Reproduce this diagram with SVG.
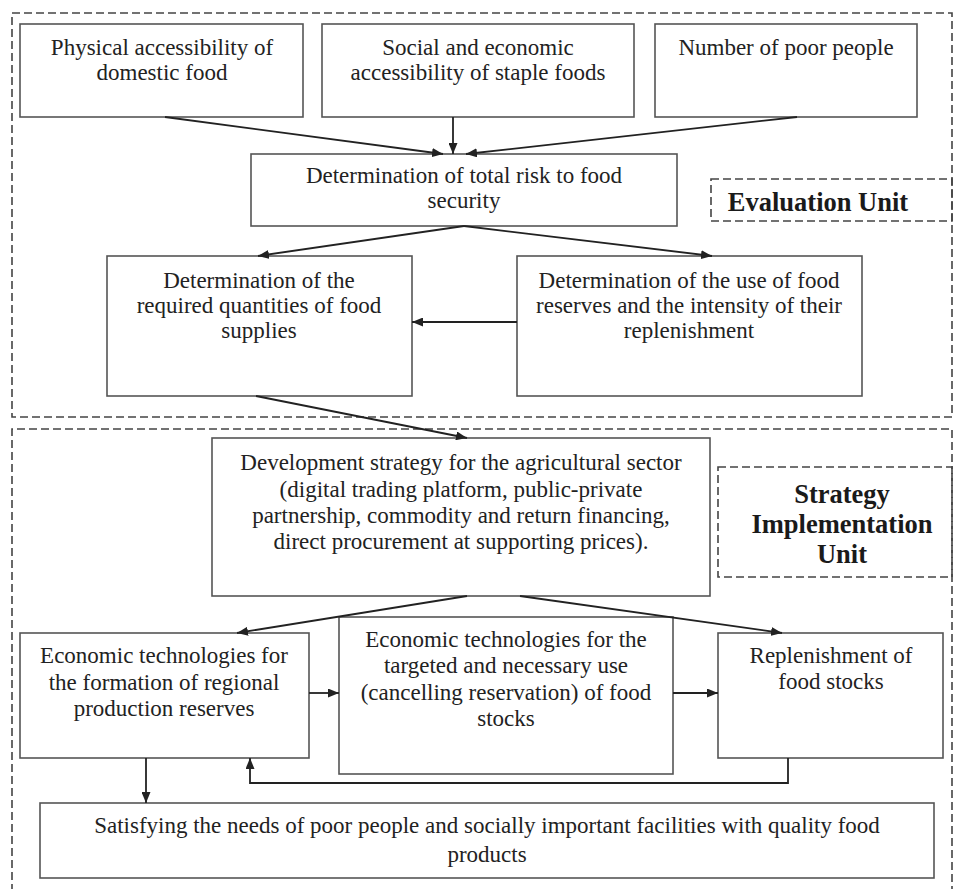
<svg xmlns="http://www.w3.org/2000/svg" width="955" height="889" viewBox="0 0 955 889">
<style>
.box{fill:#fff;stroke:#555;stroke-width:1.6}
.dash{fill:none;stroke:#444;stroke-width:1.6;stroke-dasharray:8 4}
.t{font-family:"Liberation Serif","Times New Roman",serif;font-size:23px;fill:#222;text-anchor:middle}
.b{font-family:"Liberation Serif","Times New Roman",serif;font-size:26.5px;font-weight:bold;fill:#1a1a1a;text-anchor:middle}
.c{fill:none;stroke:#222;stroke-width:1.8}
</style>
<defs>
<marker id="ah" markerUnits="userSpaceOnUse" markerWidth="11" markerHeight="9" refX="11" refY="4.5" orient="auto">
<path d="M0,0 L11,4.5 L0,9 z" fill="#222"/>
</marker>
</defs>
<rect width="955" height="889" fill="#fff"/>
<g id="units">
<rect class="dash" x="12" y="13" width="940" height="404"/>
<path class="dash" d="M12,892 L12,429 L952,429 L952,892"/>
</g>
<g id="evaluation-label">
<rect class="dash" x="711" y="179" width="241" height="42"/>
<text class="b" x="818" y="211">Evaluation Unit</text>
</g>
<g id="strategy-label">
<rect class="dash" x="718" y="467" width="234" height="110"/>
<text class="b" x="842" y="503">Strategy</text>
<text class="b" x="842" y="533">Implementation</text>
<text class="b" x="842" y="563">Unit</text>
</g>
<g id="n1">
<rect class="box" x="20" y="24" width="283" height="93"/>
<text class="t" x="162" y="55">Physical accessibility of</text>
<text class="t" x="162" y="80">domestic food</text>
</g>
<g id="n2">
<rect class="box" x="322" y="24" width="312" height="93"/>
<text class="t" x="478" y="55">Social and economic</text>
<text class="t" x="478" y="80">accessibility of staple foods</text>
</g>
<g id="n3">
<rect class="box" x="655" y="24" width="262" height="93"/>
<text class="t" x="786" y="55">Number of poor people</text>
</g>
<g id="n4">
<rect class="box" x="251" y="154" width="426" height="72"/>
<text class="t" x="464" y="183">Determination of total risk to food</text>
<text class="t" x="464" y="208">security</text>
</g>
<g id="n5">
<rect class="box" x="107" y="256" width="305" height="140"/>
<text class="t" x="259" y="288">Determination of the</text>
<text class="t" x="259" y="313">required quantities of food</text>
<text class="t" x="259" y="338">supplies</text>
</g>
<g id="n6">
<rect class="box" x="517" y="256" width="345" height="140"/>
<text class="t" x="689" y="288">Determination of the use of food</text>
<text class="t" x="689" y="313">reserves and the intensity of their</text>
<text class="t" x="689" y="338">replenishment</text>
</g>
<g id="n7">
<rect class="box" x="212" y="438" width="498" height="158"/>
<text class="t" x="461" y="470">Development strategy for the agricultural sector</text>
<text class="t" x="461" y="497">(digital trading platform, public-private</text>
<text class="t" x="461" y="523">partnership, commodity and return financing,</text>
<text class="t" x="461" y="549">direct procurement at supporting prices).</text>
</g>
<g id="n8">
<rect class="box" x="20" y="633" width="289" height="125"/>
<text class="t" x="164" y="663">Economic technologies for</text>
<text class="t" x="164" y="690">the formation of regional</text>
<text class="t" x="164" y="716">production reserves</text>
</g>
<g id="n9">
<rect class="box" x="339" y="617" width="334" height="157"/>
<text class="t" x="506" y="647">Economic technologies for the</text>
<text class="t" x="506" y="673">targeted and necessary use</text>
<text class="t" x="506" y="700">(cancelling reservation) of food</text>
<text class="t" x="506" y="726">stocks</text>
</g>
<g id="n10">
<rect class="box" x="718" y="633" width="225" height="125"/>
<text class="t" x="831" y="663">Replenishment of</text>
<text class="t" x="831" y="689">food stocks</text>
</g>
<g id="n11">
<rect class="box" x="40" y="803" width="894" height="75"/>
<text class="t" x="487" y="833">Satisfying the needs of poor people and socially important facilities with quality food</text>
<text class="t" x="487" y="862">products</text>
</g>
<g id="connectors">
<path class="c" d="M165,117 L443,154" marker-end="url(#ah)"/>
<path class="c" d="M453,117 L453,154" marker-end="url(#ah)"/>
<path class="c" d="M797,117 L466,154" marker-end="url(#ah)"/>
<path class="c" d="M464,226 L258,256" marker-end="url(#ah)"/>
<path class="c" d="M464,226 L712,256" marker-end="url(#ah)"/>
<path class="c" d="M517,322 L412,322" marker-end="url(#ah)"/>
<path class="c" d="M256,396 L467,438" marker-end="url(#ah)"/>
<path class="c" d="M467,596 L237,633" marker-end="url(#ah)"/>
<path class="c" d="M520,596 L782,633" marker-end="url(#ah)"/>
<path class="c" d="M309,693 L339,693" marker-end="url(#ah)"/>
<path class="c" d="M673,693 L718,693" marker-end="url(#ah)"/>
<path class="c" d="M146,758 L146,803" marker-end="url(#ah)"/>
<path class="c" d="M788,758 L788,783 L250,783 L250,758" marker-end="url(#ah)"/>
</g>
</svg>
